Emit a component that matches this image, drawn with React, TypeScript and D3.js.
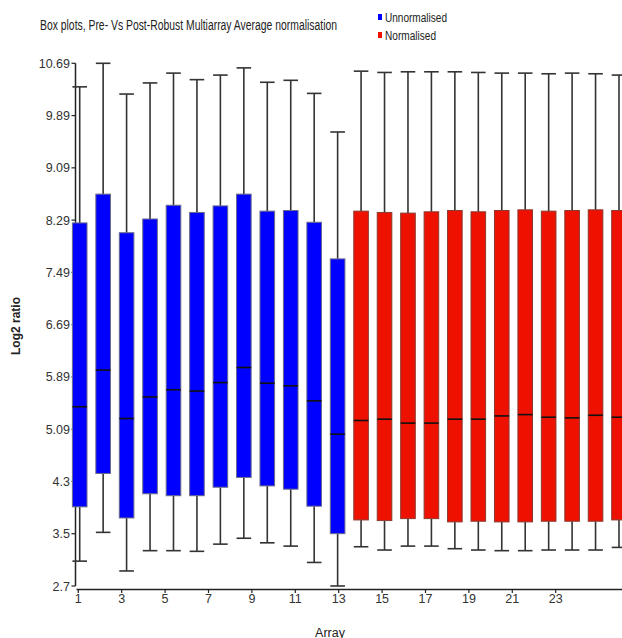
import React from "react";
import * as d3 from "d3";

const arrays = [1,2,3,4,5,6,7,8,9,10,11,12,13,14,15,16,17,18,19,20,21,22,23,24];
const groups = ["Unnormalised","Unnormalised","Unnormalised","Unnormalised","Unnormalised","Unnormalised","Unnormalised","Unnormalised","Unnormalised","Unnormalised","Unnormalised","Unnormalised","Normalised","Normalised","Normalised","Normalised","Normalised","Normalised","Normalised","Normalised","Normalised","Normalised","Normalised","Normalised"];
const maxV = [10.33,10.69,10.22,10.39,10.54,10.44,10.51,10.62,10.40,10.43,10.23,9.64,10.57,10.55,10.56,10.56,10.56,10.55,10.54,10.54,10.53,10.54,10.53,10.51];
const q3V = [8.25,8.69,8.10,8.31,8.52,8.41,8.51,8.69,8.43,8.44,8.26,7.70,8.43,8.41,8.40,8.42,8.44,8.42,8.44,8.45,8.43,8.44,8.45,8.44];
const medV = [5.44,6.00,5.26,5.59,5.70,5.68,5.81,6.04,5.80,5.76,5.53,5.02,5.23,5.25,5.19,5.19,5.25,5.25,5.30,5.32,5.28,5.27,5.31,5.28];
const q1V = [3.91,4.42,3.74,4.11,4.08,4.08,4.21,4.36,4.23,4.18,3.92,3.50,3.71,3.70,3.73,3.73,3.68,3.69,3.68,3.68,3.69,3.69,3.69,3.71];
const minV = [3.08,3.52,2.93,3.24,3.24,3.23,3.34,3.43,3.36,3.31,3.06,2.70,3.30,3.25,3.31,3.31,3.27,3.25,3.24,3.24,3.25,3.25,3.25,3.29];

const yTickValues = [2.7,3.499,4.298,5.097,5.896,6.695,7.494,8.293,9.092,9.891,10.69];
const yTickLabels = ["2.7","3.5","4.3","5.09","5.89","6.69","7.49","8.29","9.09","9.89","10.69"];
const xTickLabels = [1,3,5,7,9,11,13,15,17,19,21,23];

const legendItems = ["Unnormalised","Normalised"];
const colors: Record<string,string> = { Unnormalised: "#0000ff", Normalised: "#ee1100" };
const strokes: Record<string,string> = { Unnormalised: "#6a6a8a", Normalised: "#8a3a30" };

const FONT = "'Liberation Sans Narrow', 'Liberation Sans', Arial, sans-serif";

export default function App() {
  const y = d3.scaleLinear().domain([2.7, 10.69]).range([586, 63.3]);
  const x = d3.scaleLinear().domain([1, 24]).range([79.7, 619]);
  const xLab = d3.scaleLinear().domain([1, 23]).range([78.3, 555.7]);
  const bw = 14.6;
  const cw = 14.6;

  return (
    <svg width={622} height={638} style={{ position: "absolute", left: 0, top: 0, background: "#fff" }} fontFamily={FONT}>
      <rect x={0} y={0} width={622} height={638} fill="#fff" />
      <text x={40} y={30} fontSize={14} fill="#222" textLength={297} lengthAdjust="spacingAndGlyphs">
        Box plots, Pre- Vs Post-Robust Multiarray Average normalisation
      </text>
      {legendItems.map((g, i) => (
        <g key={g}>
          <rect x={378} y={14 + i * 18} width={4} height={6} fill={colors[g]} />
          <text x={385} y={21.5 + i * 18} fontSize={12.5} fill="#222" textLength={g === "Unnormalised" ? 62 : 51} lengthAdjust="spacingAndGlyphs">{g}</text>
        </g>
      ))}

      {/* y axis */}
      <line x1={75.5} x2={75.5} y1={y(10.69)} y2={y(2.7)} stroke="#222" strokeWidth={1.5} />
      {yTickValues.map((v, i) => (
        <g key={v}>
          <line x1={71.5} x2={75.5} y1={y(v)} y2={y(v)} stroke="#222" strokeWidth={1.2} />
          <text x={70} y={y(v) + 4.5} fontSize={12.5} textAnchor="end" fill="#333">{yTickLabels[i]}</text>
        </g>
      ))}
      <text transform="translate(20,326) rotate(-90)" fontSize={12} fontWeight="bold" textAnchor="middle" fill="#222" fontFamily="'Liberation Sans', Arial, sans-serif">Log2 ratio</text>

      {/* x axis */}
      <line x1={76.5} x2={622} y1={589.5} y2={589.5} stroke="#222" strokeWidth={1.5} />
      {xTickLabels.map((t) => (
        <g key={t}>
          <line x1={xLab(t)} x2={xLab(t)} y1={589.5} y2={593} stroke="#222" strokeWidth={1.2} />
          <text x={xLab(t)} y={603} fontSize={12.5} textAnchor="middle" fill="#333">{t}</text>
        </g>
      ))}
      <text x={330} y={637} fontSize={12.5} textAnchor="middle" fill="#222">Array</text>

      {/* boxes */}
      {arrays.map((a, i) => {
        const cx = x(a);
        const g = groups[i];
        return (
          <g key={a}>
            <line x1={cx} x2={cx} y1={y(maxV[i])} y2={y(q3V[i])} stroke="#333" strokeWidth={1.6} />
            <line x1={cx} x2={cx} y1={y(q1V[i])} y2={y(minV[i])} stroke="#333" strokeWidth={1.6} />
            <line x1={cx - cw / 2} x2={cx + cw / 2} y1={y(maxV[i])} y2={y(maxV[i])} stroke="#333" strokeWidth={1.6} />
            <line x1={cx - cw / 2} x2={cx + cw / 2} y1={y(minV[i])} y2={y(minV[i])} stroke="#333" strokeWidth={1.6} />
            <rect x={cx - bw / 2} y={y(q3V[i])} width={bw} height={y(q1V[i]) - y(q3V[i])} fill={colors[g]} stroke={strokes[g]} strokeWidth={1} />
            <line x1={cx - bw / 2} x2={cx + bw / 2} y1={y(medV[i])} y2={y(medV[i])} stroke="#111" strokeWidth={1.6} />
          </g>
        );
      })}
    </svg>
  );
}
